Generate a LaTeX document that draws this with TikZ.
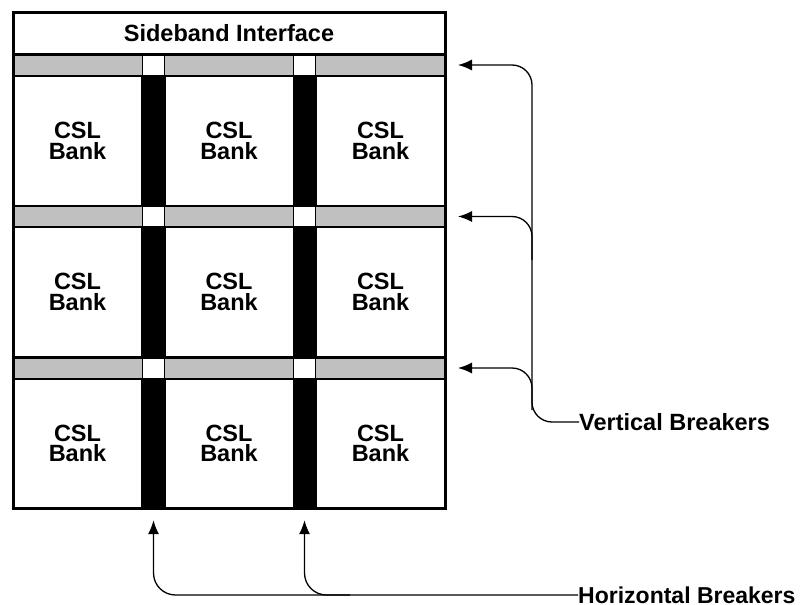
\documentclass[tikz,border=0pt]{standalone}
\usepackage{fontspec}
\setmainfont{Liberation Sans}
\usetikzlibrary{arrows.meta}
\definecolor{bandgray}{HTML}{C0C0C0}
\begin{document}
\begin{tikzpicture}[x=1pt,y=-1pt,
  txt/.style={font=\bfseries\fontsize{23.5}{20.5}\selectfont},
  bank/.style={draw,line width=2pt,fill=white,minimum width=129pt,minimum height=130pt,inner sep=0pt,align=center,txt},
  band/.style={draw,line width=2pt,fill=bandgray,minimum width=432pt,minimum height=21pt,inner sep=0pt},
  col/.style={fill=black,minimum width=23pt,minimum height=432pt,inner sep=0pt},
  sq/.style={draw,line width=1pt,fill=white,minimum width=22pt,minimum height=20pt,inner sep=0pt},
  conn/.style={line width=1.3pt},
  tip/.style={-{Latex[length=14pt,width=11pt]}},
  lbl/.style={anchor=west,inner sep=0pt,txt}]
\useasboundingbox (0,0) rectangle (809,605);
% bands
\node[band] (b1) at (229,65) {};
\node[band] (b2) at (229,216.5) {};
\node[band] (b3) at (229,368) {};
% black columns
\node[col] (c1) at (153.5,292) {};
\node[col] (c2) at (304.5,292) {};
% white squares
\foreach \r/\y in {1/65,2/216.5,3/368}{
  \node[sq] (s1\r) at (153.5,\y) {};
  \node[sq] (s2\r) at (304.5,\y) {};
}
% banks
\foreach \r/\y in {1/141,2/292,3/443.5}{
  \node[bank] (k1\r) at (77.5,\y) {CSL\\Bank};
  \node[bank] (k2\r) at (229,\y) {CSL\\Bank};
  \node[bank] (k3\r) at (380.5,\y) {CSL\\Bank};
}
% sideband
\node[draw,line width=2pt,minimum width=432pt,minimum height=42pt,inner sep=0pt,txt] (side) at (229,33) {Sideband Interface};
% outer border
\node[draw,line width=3pt,minimum width=432pt,minimum height=496pt,inner sep=0pt] (outer) at (229,260) {};
% labels
\node[lbl] (vb) at (579,422) {Vertical Breakers};
\node[lbl,font=\bfseries\fontsize{23}{20}\selectfont] (hb) at (578,595) {Horizontal Breakers};
% vertical breakers connectors
\draw[conn,tip,rounded corners=20pt] (vb.west) -- (532,422) -- (532,65) -- ([xshift=12pt]b1.east);
\draw[conn,tip,rounded corners=20pt] (532,260) -- (532,216.5) -- ([xshift=12pt]b2.east);
\draw[conn,tip,rounded corners=20pt] (532,410) -- (532,368) -- ([xshift=12pt]b3.east);
% horizontal breakers connectors
\draw[conn,tip,rounded corners=22pt] (hb.west) -- (153.5,595) -- ([yshift=-12pt]c1.south);
\draw[conn,tip,rounded corners=22pt] (350,595) -- (304.5,595) -- ([yshift=-12pt]c2.south);
\end{tikzpicture}
\end{document}
